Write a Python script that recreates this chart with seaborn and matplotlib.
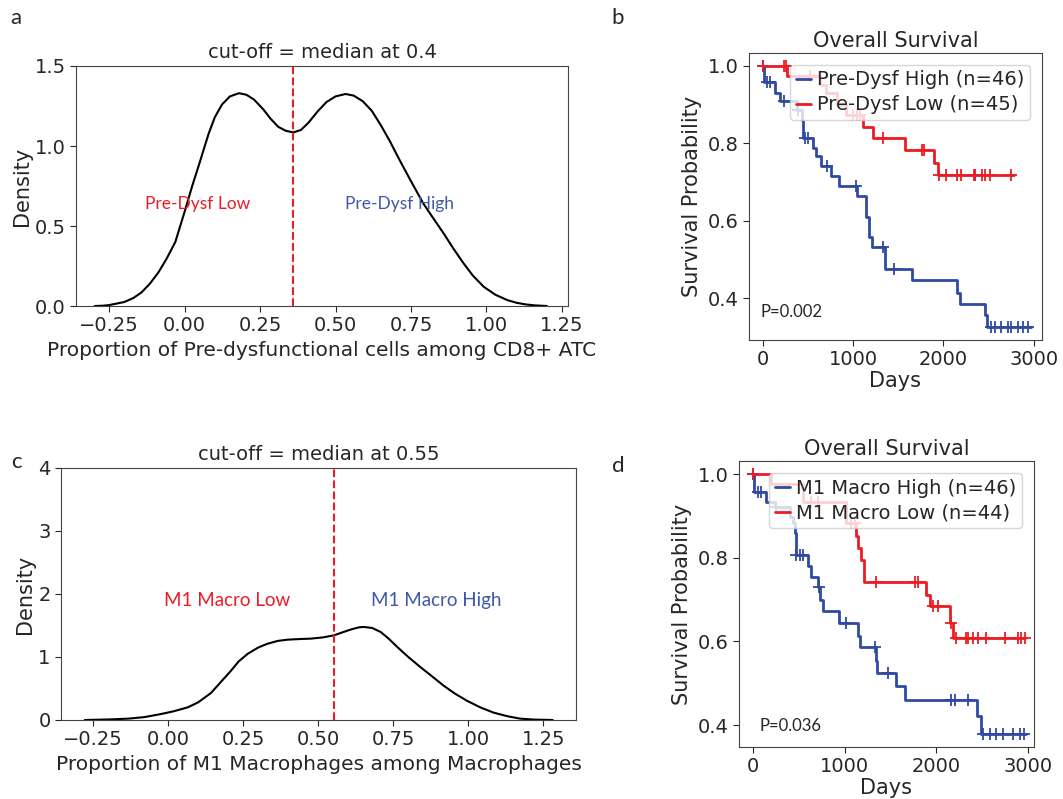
import numpy as np
import pandas as pd
import seaborn as sns
import matplotlib.pyplot as plt

# ---- panel a: density of pre-dysfunctional proportion
a_x = [-0.298, -0.27, -0.25, -0.2, -0.17, -0.143, -0.115, -0.087, -0.06, -0.031, 0.0, 0.025,
       0.047, 0.065, 0.08, 0.1, 0.124, 0.15, 0.18, 0.205, 0.23, 0.26, 0.285, 0.31, 0.335,
       0.36, 0.385, 0.41, 0.44, 0.47, 0.5, 0.533, 0.56, 0.59, 0.62, 0.65, 0.68, 0.71, 0.747,
       0.791, 0.825, 0.858, 0.89, 0.924, 0.955, 0.991, 1.03, 1.069, 1.1, 1.13, 1.16, 1.2]
a_density = [0.0, 0.002, 0.006, 0.025, 0.05, 0.085, 0.14, 0.21, 0.295, 0.40, 0.59, 0.75,
             0.88, 0.99, 1.08, 1.18, 1.26, 1.31, 1.33, 1.32, 1.29, 1.23, 1.17, 1.12, 1.095,
             1.085, 1.10, 1.145, 1.215, 1.275, 1.31, 1.325, 1.315, 1.28, 1.22, 1.13, 1.03, 0.92,
             0.79, 0.64, 0.545, 0.454, 0.36, 0.267, 0.19, 0.12, 0.07, 0.037, 0.02, 0.01, 0.004, 0.0]
a_median = 0.36

# ---- panel c: density of M1 macrophage proportion
c_x = [-0.278, -0.2, -0.134, -0.08, -0.023, 0.02, 0.065, 0.1, 0.143, 0.175, 0.209, 0.235,
       0.265, 0.3, 0.331, 0.365, 0.398, 0.44, 0.475, 0.515, 0.553, 0.58, 0.608, 0.635, 0.652,
       0.68, 0.708, 0.735, 0.763, 0.8, 0.841, 0.88, 0.918, 0.955, 0.996, 1.04, 1.084, 1.13,
       1.173, 1.22, 1.281]
c_density = [0.0, 0.008, 0.021, 0.045, 0.095, 0.14, 0.2, 0.28, 0.43, 0.6, 0.78, 0.93,
             1.05, 1.15, 1.21, 1.255, 1.275, 1.285, 1.291, 1.31, 1.344, 1.39, 1.435, 1.47, 1.477,
             1.46, 1.397, 1.29, 1.16, 1.0, 0.837, 0.69, 0.544, 0.42, 0.304, 0.2, 0.117, 0.06,
             0.021, 0.006, 0.0]
c_median = 0.553

# ---- panel b: Kaplan-Meier steps (days, survival) + censor times
b_high_t = [0, 11, 139, 194, 376, 431, 449, 559, 595, 650, 760, 844, 1041, 1143, 1172,
            1209, 1351, 1654, 2154, 2184, 2458, 2487]
b_high_s = [1.0, 0.957, 0.929, 0.909, 0.886, 0.860, 0.813, 0.787, 0.766, 0.740, 0.716,
            0.690, 0.664, 0.610, 0.559, 0.531, 0.474, 0.447, 0.412, 0.385, 0.356, 0.326]
b_high_end = 2970
b_high_cens = [5, 48, 84, 238, 394, 468, 504, 712, 1030, 1333, 1454, 2531, 2567, 2640,
               2713, 2750, 2823, 2877, 2932]

b_low_t = [0, 267, 632, 700, 820, 924, 1114, 1216, 1571, 1892, 1935]
b_low_s = [1.0, 0.974, 0.951, 0.929, 0.899, 0.873, 0.842, 0.813, 0.783, 0.749, 0.718]
b_low_end = 2786
b_low_cens = [5, 240, 255, 522, 1000, 1040, 1080, 1333, 1764, 1785, 1953, 2026, 2154,
              2190, 2337, 2346, 2355, 2428, 2464, 2519, 2749]

# ---- panel d
d_high_t = [0, 8, 138, 236, 400, 436, 455, 466, 600, 636, 709, 730, 764, 938, 1145, 1171,
            1342, 1352, 1564, 1654, 2443, 2490]
d_high_s = [1.0, 0.958, 0.934, 0.922, 0.898, 0.882, 0.859, 0.807, 0.781, 0.755, 0.730,
            0.700, 0.672, 0.644, 0.612, 0.586, 0.554, 0.525, 0.493, 0.461, 0.422, 0.378]
d_high_end = 2981
d_high_cens = [5, 55, 91, 255, 473, 509, 546, 720, 1018, 1330, 1472, 2163, 2200, 2345,
               2509, 2581, 2654, 2727, 2836, 2908, 2960]

d_low_t = [0, 200, 545, 1018, 1127, 1145, 1182, 1207, 1891, 1927, 2152, 2181]
d_low_s = [1.0, 0.976, 0.932, 0.882, 0.851, 0.823, 0.795, 0.741, 0.712, 0.684, 0.644, 0.608]
d_low_end = 2963
d_low_cens = [5, 636, 709, 1073, 1109, 1338, 1763, 1800, 1963, 2018, 2160, 2218, 2327,
              2345, 2400, 2454, 2545, 2745, 2890, 2927, 2963]

RED = '#ec1c24'
BLUE = '#3049a3'
NOTE_FONT = ['Lato', 'DejaVu Sans']

sns.set_style('ticks')
plt.rcParams['font.family'] = ['DejaVu Sans']
plt.rcParams['axes.edgecolor'] = '#444444'
plt.rcParams['xtick.labelsize'] = 14
plt.rcParams['ytick.labelsize'] = 14
plt.rcParams['xtick.major.size'] = 4
plt.rcParams['ytick.major.size'] = 4

fig = plt.figure(figsize=(10.63, 7.99), dpi=100)
ax_a = fig.add_axes([0.0715, 0.617, 0.4628, 0.3004])
ax_b = fig.add_axes([0.7046, 0.5745, 0.2756, 0.3592])
ax_c = fig.add_axes([0.0574, 0.0989, 0.4845, 0.3154])
ax_d = fig.add_axes([0.6952, 0.0651, 0.2775, 0.3579])


def density_panel(ax, x, y, median, title, xlabel, low, high, text_y, ylim, low_x, high_x, fs):
    sns.lineplot(x=x, y=y, color='black', lw=1.5, sort=False, ax=ax)
    ax.axvline(median, color=RED, ls='--', lw=1.5)
    ax.text(low_x, text_y, low, color=RED, ha='center', va='center', fontsize=fs, family=NOTE_FONT)
    ax.text(high_x, text_y, high, color='#3f58a8', ha='center', va='center', fontsize=fs, family=NOTE_FONT)
    ax.set_ylim(*ylim)
    ax.set_title(title, fontsize=14)
    ax.set_xlabel(xlabel, fontsize=14.5)
    ax.set_ylabel('Density', fontsize=15, labelpad=2)


def km_panel(ax, curves, pval, p_xy, ylim, xlim):
    for t, s, end, cens, color, label in curves:
        t_full = list(t) + [end]
        s_full = list(s) + [s[-1]]
        sns.lineplot(x=t_full, y=s_full, drawstyle='steps-post', color=color, lw=2,
                     label=label, ax=ax, estimator=None)
        idx = np.searchsorted(t, cens, side='right') - 1
        cy = np.asarray(s)[idx]
        sns.scatterplot(x=cens, y=cy, marker='+', s=70, color=color, linewidth=1.3, ax=ax,
                        legend=False, zorder=3)
    ax.set_xlim(*xlim)
    ax.set_ylim(*ylim)
    ax.set_yticks([0.4, 0.6, 0.8, 1.0])
    ax.set_xticks([0, 1000, 2000, 3000])
    ax.set_title('Overall Survival', fontsize=15, pad=4)
    ax.set_xlabel('Days', fontsize=15, labelpad=1)
    ax.set_ylabel('Survival Probability', fontsize=15)
    ax.text(p_xy[0], p_xy[1], pval, fontsize=12, va='center', ha='left', family=NOTE_FONT)
    ax.legend(loc='upper right', fontsize=14, handlelength=0.8, handletextpad=0.3,
              borderpad=0.3, labelspacing=0.3, borderaxespad=0.6)


density_panel(ax_a, a_x, a_density, a_median, 'cut-off = median at 0.4',
              'Proportion of Pre-dysfunctional cells among CD8+ ATC',
              'Pre-Dysf Low', 'Pre-Dysf High', 0.64, (0, 1.5), 0.043, 0.713, 12.5)
ax_a.set_xlim(-0.36, 1.27)
ax_a.set_yticks([0, 0.5, 1.0, 1.5])

density_panel(ax_c, c_x, c_density, c_median, 'cut-off = median at 0.55',
              'Proportion of M1 Macrophages among Macrophages',
              'M1 Macro Low', 'M1 Macro High', 1.9, (0, 4), 0.198, 0.894, 13.5)
ax_c.set_xlim(-0.357, 1.359)
ax_c.set_yticks([0, 1, 2, 3, 4])

km_panel(ax_b, [(b_high_t, b_high_s, b_high_end, b_high_cens, BLUE, 'Pre-Dysf High (n=46)'),
                (b_low_t, b_low_s, b_low_end, b_low_cens, RED, 'Pre-Dysf Low (n=45)')],
         'P=0.002', (-20, 0.365), (0.292, 1.033), (-150, 3090))
km_panel(ax_d, [(d_high_t, d_high_s, d_high_end, d_high_cens, BLUE, 'M1 Macro High (n=46)'),
                (d_low_t, d_low_s, d_low_end, d_low_cens, RED, 'M1 Macro Low (n=44)')],
         'P=0.036', (70, 0.398), (0.348, 1.031), (-153, 3065))

for lab, x, y in [('a', 16, 18), ('b', 618, 18), ('c', 16, 462), ('d', 618, 466)]:
    fig.text(x / 1063, 1 - y / 799, lab, fontsize=16, ha='center', va='center', family=NOTE_FONT)

fig.savefig('out.png', dpi=100)
